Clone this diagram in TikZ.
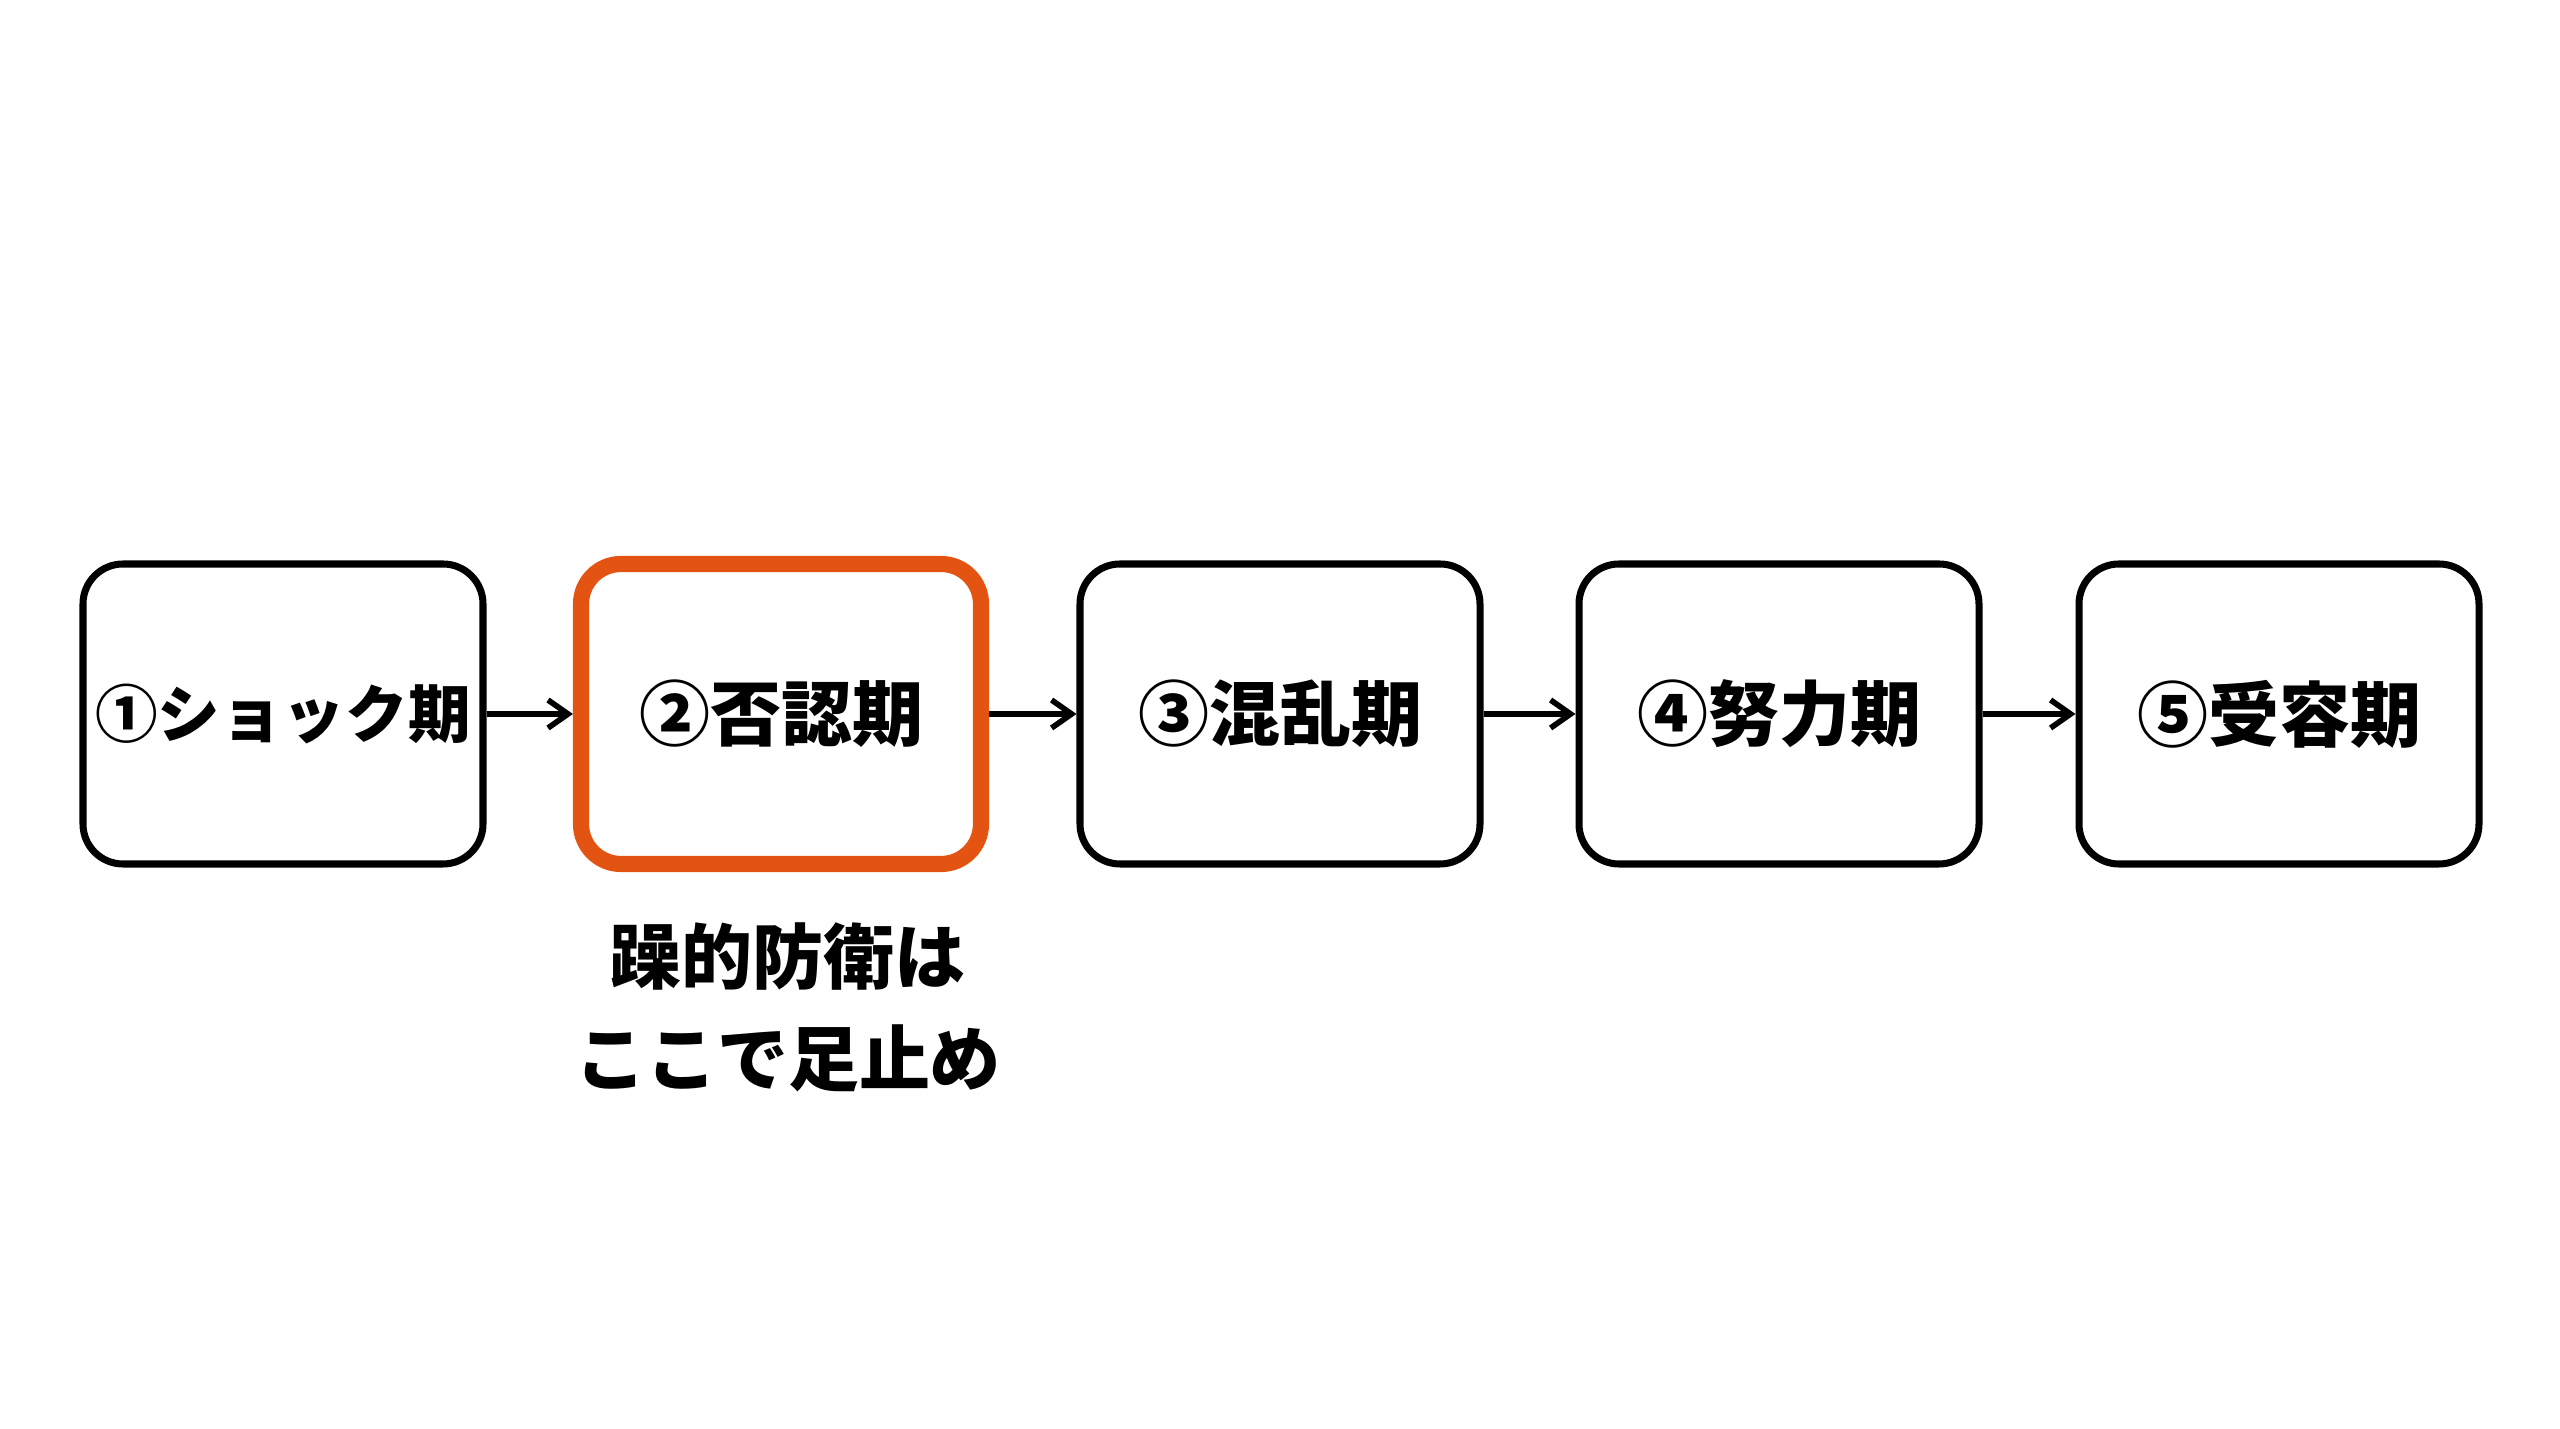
\documentclass[tikz,border=0pt]{standalone}
\usepackage{fontspec}
\newfontfamily\jpfont{Noto Sans CJK JP}
\usetikzlibrary{arrows.meta}
\definecolor{stageorange}{HTML}{E35412}
\begin{document}
\begin{tikzpicture}[
    stagebox/.style={draw=black, line width=2pt, rounded corners=0.4cm, minimum width=4.0cm, minimum height=3.0cm, inner sep=0pt, font=\jpfont\bfseries\fontsize{20.2}{24}\selectfont},
    stagehot/.style={stagebox, draw=stageorange, line width=4.6pt},
    flow/.style={line width=1.6pt, -{Straight Barb[length=2mm,width=2.8mm]}}
  ]
  \useasboundingbox (0,0) rectangle (25.6,14.29);
  \node[stagebox, font=\jpfont\bfseries\fontsize{17.8}{22}\selectfont] (shock) at (2.83,7.15) {①ショック期};
  \node[stagehot] (denial) at (7.81,7.15) {②否認期};
  \node[stagebox] (chaos) at (12.80,7.15) {③混乱期};
  \node[stagebox] (effort) at (17.79,7.15) {④努力期};
  \node[stagebox] (accept) at (22.79,7.15) {⑤受容期};
  \draw[flow] (shock) -- (denial);
  \draw[flow] (denial) -- (chaos);
  \draw[flow] (chaos) -- (effort);
  \draw[flow] (effort) -- (accept);
  \node[align=center, font=\jpfont\bfseries\fontsize{20.2}{29}\selectfont] (note) at (7.88,4.22) {躁的防衛は\\ここで足止め};
\end{tikzpicture}
\end{document}
